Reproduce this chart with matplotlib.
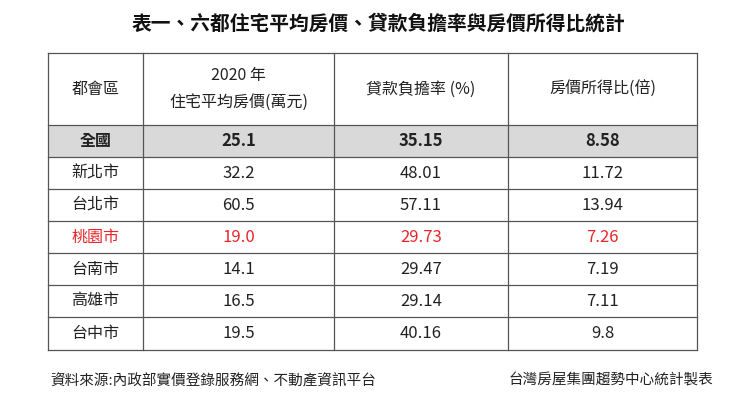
import matplotlib
matplotlib.use("Agg")
import matplotlib.pyplot as plt
from matplotlib.patches import Rectangle

plt.rcParams['font.family'] = ['Noto Sans CJK TC', 'DejaVu Sans']

title = "表一、六都住宅平均房價、貸款負擔率與房價所得比統計"
headers = ["都會區", "2020 年\n住宅平均房價(萬元)", "貸款負擔率 (%)", "房價所得比(倍)"]
regions = ["全國", "新北市", "台北市", "桃園市", "台南市", "高雄市", "台中市"]
price = ["25.1", "32.2", "60.5", "19.0", "14.1", "16.5", "19.5"]
burden = ["35.15", "48.01", "57.11", "29.73", "29.47", "29.14", "40.16"]
ratio = ["8.58", "11.72", "13.94", "7.26", "7.19", "7.11", "9.8"]
footer_left = "資料來源:內政部實價登錄服務網、不動產資訊平台"
footer_right = "台灣房屋集團趨勢中心統計製表"

fig = plt.figure(figsize=(7.55, 4.08), dpi=100)
ax = fig.add_axes([0, 0, 1, 1])
ax.set_xlim(0, 755); ax.set_ylim(408, 0); ax.axis('off')

cols = [48, 143, 334, 508, 697]
row_edges = [53, 125, 157, 189, 221, 253, 285, 317, 350]

ax.text(378, 24, title, ha='center', va='center', fontsize=14.2, fontweight='bold', color='#111')

ax.add_patch(Rectangle((cols[0], row_edges[1]), cols[-1]-cols[0], row_edges[2]-row_edges[1],
                       facecolor='#d9d9d9', edgecolor='none'))
for y in row_edges:
    ax.plot([cols[0], cols[-1]], [y, y], color='#555', lw=0.9)
for x in cols:
    ax.plot([x, x], [row_edges[0], row_edges[-1]], color='#555', lw=0.9)

for j, h in enumerate(headers):
    xc = (cols[j] + cols[j+1]) / 2
    ax.text(xc, (row_edges[0]+row_edges[1])/2, h, ha='center', va='center',
            fontsize=11.5, color='#222', linespacing=1.7)

for i in range(len(regions)):
    yc = (row_edges[i+1] + row_edges[i+2]) / 2
    color = '#e8262a' if regions[i] == "桃園市" else '#222'
    weight = 'bold' if i == 0 else 'normal'
    for j, v in enumerate([regions[i], price[i], burden[i], ratio[i]]):
        xc = (cols[j] + cols[j+1]) / 2
        ax.text(xc, yc, v, ha='center', va='center', fontsize=12 if j else 11.5,
                color=color, fontweight=weight)

ax.text(50, 381, footer_left, ha='left', va='center', fontsize=10.5, color='#222')
ax.text(713, 381, footer_right, ha='right', va='center', fontsize=10.5, color='#222')

fig.savefig("out.png", dpi=100, facecolor='white')
